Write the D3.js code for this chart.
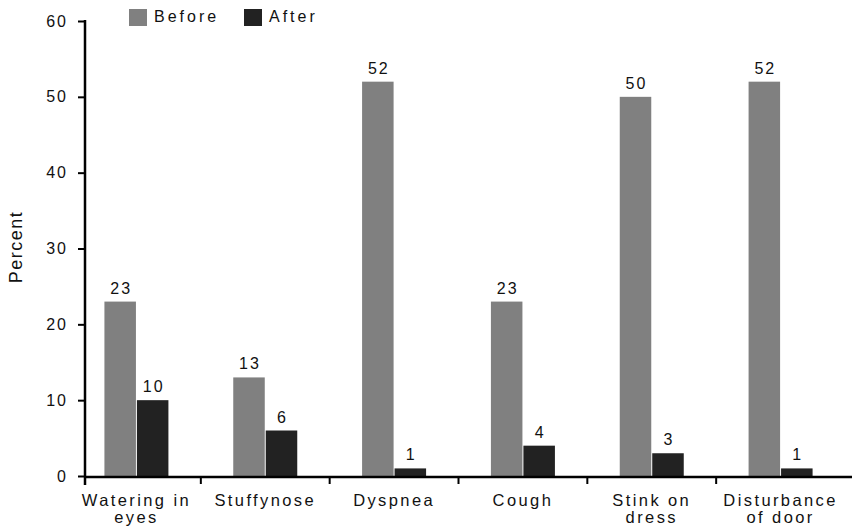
<!DOCTYPE html>
<html>
<head>
<meta charset="utf-8">
<script src="https://cdn.jsdelivr.net/npm/d3@7"></script>
<style>
  html, body { margin: 0; padding: 0; background: #fff; }
  svg text { font-family: "Liberation Sans", Arial, Helvetica, sans-serif; fill: #111; }
</style>
</head>
<body>
<svg id="chart" width="852" height="529"></svg>
<script>
// Symptoms reported before and after, in percent
const categories = ["Watering in\neyes", "Stuffynose", "Dyspnea", "Cough", "Stink on\ndress", "Disturbance\nof door"];
const seriesNames = ["Before", "After"];
const beforeValues = [23, 13, 52, 23, 50, 52];
const afterValues = [10, 6, 1, 4, 3, 1];
const yTicks = [0, 10, 20, 30, 40, 50, 60];
const colors = ["#808080", "#222222"];

const svg = d3.select("#chart");
const axisX = 85, baseY = 477, rightX = 852;

const y = d3.scaleLinear().domain([0, 60]).range([476, 21]);
const x = d3.scaleBand().domain(categories).range([72, 845]).padding(0);
const xs = d3.scaleBand().domain(seriesNames).range([-32, 32]).paddingInner(0.03);

const data = categories.map((c, i) => ({ cat: c, vals: [beforeValues[i], afterValues[i]] }));

// Bars and value labels
const groups = svg.append("g").selectAll("g").data(data).join("g")
  .attr("transform", d => `translate(${x(d.cat) + x.bandwidth() / 2},0)`);

groups.selectAll("rect").data(d => d.vals.map((v, k) => ({ v, k })))
  .join("rect")
  .attr("x", d => xs(seriesNames[d.k]))
  .attr("width", xs.bandwidth())
  .attr("y", d => y(d.v))
  .attr("height", d => y(0) - y(d.v))
  .attr("fill", d => colors[d.k]);

groups.selectAll("text.val").data(d => d.vals.map((v, k) => ({ v, k })))
  .join("text")
  .attr("class", "val")
  .attr("x", d => xs(seriesNames[d.k]) + xs.bandwidth() / 2 + 1)
  .attr("y", d => y(d.v) - 8)
  .attr("text-anchor", "middle")
  .style("font-size", "16px")
  .style("letter-spacing", "2px")
  .text(d => d.v);

// Y axis
const yAxis = d3.axisLeft(y).tickValues(yTicks).tickSize(7).tickPadding(10);
const gy = svg.append("g").attr("transform", `translate(${axisX},0)`).call(yAxis);
gy.select(".domain").remove();
gy.selectAll(".tick line").attr("stroke", "#000").attr("stroke-width", 2);
gy.selectAll(".tick text")
  .style("font-size", "16px")
  .style("letter-spacing", "2px")
  .style("font-family", "Liberation Sans, Arial, sans-serif")
  .attr("fill", "#111");
svg.append("line")
  .attr("x1", axisX).attr("x2", axisX)
  .attr("y1", y(60) - 1).attr("y2", baseY + 8)
  .attr("stroke", "#000").attr("stroke-width", 2.5);

// X axis baseline and group separators
svg.append("line")
  .attr("x1", axisX).attr("x2", rightX)
  .attr("y1", baseY).attr("y2", baseY)
  .attr("stroke", "#000").attr("stroke-width", 2.5);
svg.append("g").selectAll("line").data(categories.slice(1)).join("line")
  .attr("x1", d => x(d)).attr("x2", d => x(d))
  .attr("y1", baseY).attr("y2", baseY + 7)
  .attr("stroke", "#000").attr("stroke-width", 2);

// Category labels (may span two lines)
const catLabels = svg.append("g").selectAll("text").data(categories).join("text")
  .attr("text-anchor", "middle")
  .attr("transform", d => `translate(${x(d) + x.bandwidth() / 2},${baseY + 29})`)
  .style("font-size", "16.5px")
  .style("letter-spacing", "2.4px");
catLabels.selectAll("tspan").data(d => d.split("\n")).join("tspan")
  .attr("x", 0)
  .attr("dy", (d, i) => i === 0 ? 0 : 17)
  .text(d => d);

// Y axis title
svg.append("text")
  .attr("transform", "translate(22,247) rotate(-90)")
  .attr("text-anchor", "middle")
  .style("font-size", "18px")
  .style("letter-spacing", "1.5px")
  .text("Percent");

// Legend
const legend = svg.append("g").selectAll("g").data(seriesNames).join("g")
  .attr("transform", (d, i) => `translate(${129 + i * 115},9)`);
legend.append("rect").attr("width", 18).attr("height", 17).attr("fill", (d, i) => colors[i]);
legend.append("text")
  .attr("x", 25).attr("y", 13)
  .style("font-size", "16px")
  .style("letter-spacing", "3px")
  .text(d => d);
</script>
</body>
</html>
